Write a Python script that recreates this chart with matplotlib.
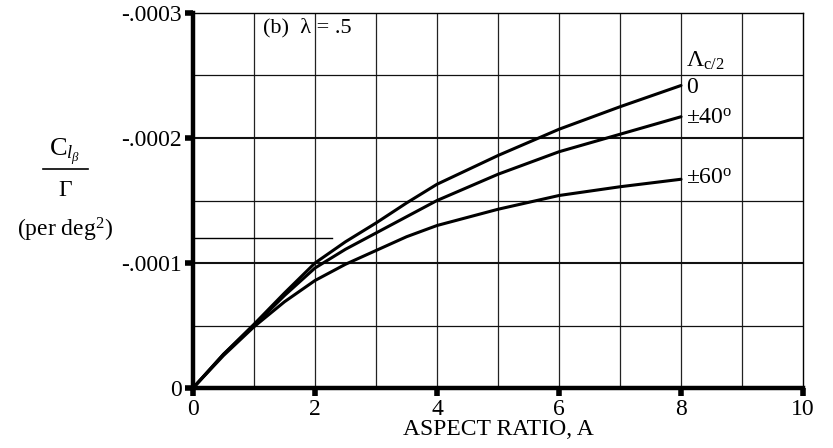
import matplotlib
matplotlib.use('Agg')
import matplotlib.pyplot as plt
from matplotlib.lines import Line2D

plt.rcParams['font.family'] = ['Liberation Serif', 'DejaVu Serif']
plt.rcParams['mathtext.fontset'] = 'custom'
plt.rcParams['mathtext.rm'] = 'Liberation Serif'
plt.rcParams['mathtext.it'] = 'Liberation Serif:italic'

# Data (Cl_beta / Gamma, per deg^2)
aspect = [0, 0.5, 1, 1.5, 2, 2.5, 3, 3.5, 4, 5, 6, 7, 8]
sweep_0 = [0, -0.27e-4, -0.51e-4, -0.76e-4, -1.00e-4, -1.17e-4, -1.32e-4, -1.48e-4, -1.63e-4,
           -1.86e-4, -2.07e-4, -2.25e-4, -2.42e-4]
sweep_40 = [0, -0.27e-4, -0.50e-4, -0.74e-4, -0.96e-4, -1.11e-4, -1.24e-4, -1.37e-4, -1.50e-4,
            -1.71e-4, -1.89e-4, -2.03e-4, -2.17e-4]
sweep_60 = [0, -0.26e-4, -0.49e-4, -0.69e-4, -0.86e-4, -0.99e-4, -1.10e-4, -1.21e-4, -1.30e-4,
            -1.43e-4, -1.54e-4, -1.61e-4, -1.67e-4]
curve_labels = ['0', r'$\pm$40$^{\mathrm{o}}$', r'$\pm$60$^{\mathrm{o}}$']
label_y = [-2.40e-4, -2.16e-4, -1.68e-4]

# stray reference line drawn on the original sheet
ref_x = [0, 2.28]
ref_y = [-1.2e-4, -1.2e-4]

x_ticks = [0, 2, 4, 6, 8, 10]
y_ticks = [0, -0.0001, -0.0002, -0.0003]
y_ticklabels = ['0', '-.0001', '-.0002', '-.0003']

fig = plt.figure(figsize=(8.33, 4.48), dpi=100)
ax = fig.add_axes([0.2317, 0.1339, 0.7323, 0.8371])

# grid
for gx in range(1, 10):
    ax.axvline(gx, color='#222222', lw=0.9, zorder=1)
for i in range(1, 6):
    gy = -0.00005 * i
    ax.axhline(gy, color='#111111', lw=1.5 if i % 2 == 0 else 0.9, zorder=1)

ax.plot(ref_x, ref_y, color='black', lw=1.0, zorder=2)

for ys in (sweep_0, sweep_40, sweep_60):
    ax.plot(aspect, ys, color='black', lw=2.2, solid_capstyle='round', solid_joinstyle='round', zorder=3)

for lab, ly in zip(curve_labels, label_y):
    ax.text(8.08, ly, lab, fontsize=17, ha='left', va='center')
ax.text(8.08, -2.62e-4, r'$\mathrm{\Lambda}_{\mathrm{c/2}}$', fontsize=17, ha='left', va='center')
ax.text(1.15, -2.88e-4, '(b)  λ = .5', fontsize=16, ha='left', va='center')

ax.set_xlim(0, 10)
ax.set_ylim(0, -0.0003)
ax.set_xticks(x_ticks)
ax.set_yticks(y_ticks)
ax.set_yticklabels(y_ticklabels)
ax.tick_params(axis='both', direction='out', length=6, width=4, labelsize=17, pad=2)

for s in ('left', 'bottom'):
    ax.spines[s].set_linewidth(3.2)
for s in ('top', 'right'):
    ax.spines[s].set_linewidth(1.0)

ax.set_xlabel('ASPECT RATIO, A', fontsize=17, labelpad=-1)

# y axis label as a stacked fraction
fig.text(0.078, 0.662, r'$\mathrm{C}_{l_\beta}$', fontsize=19, ha='center', va='center')
fig.add_artist(Line2D([0.052, 0.106], [0.623, 0.623], color='black', lw=1.2))
fig.text(0.078, 0.574, 'Γ', fontsize=17, ha='center', va='center')
fig.text(0.078, 0.487, r'(per deg$^{\mathrm{2}}$)', fontsize=17, ha='center', va='center')

fig.savefig('out.png', dpi=100)
